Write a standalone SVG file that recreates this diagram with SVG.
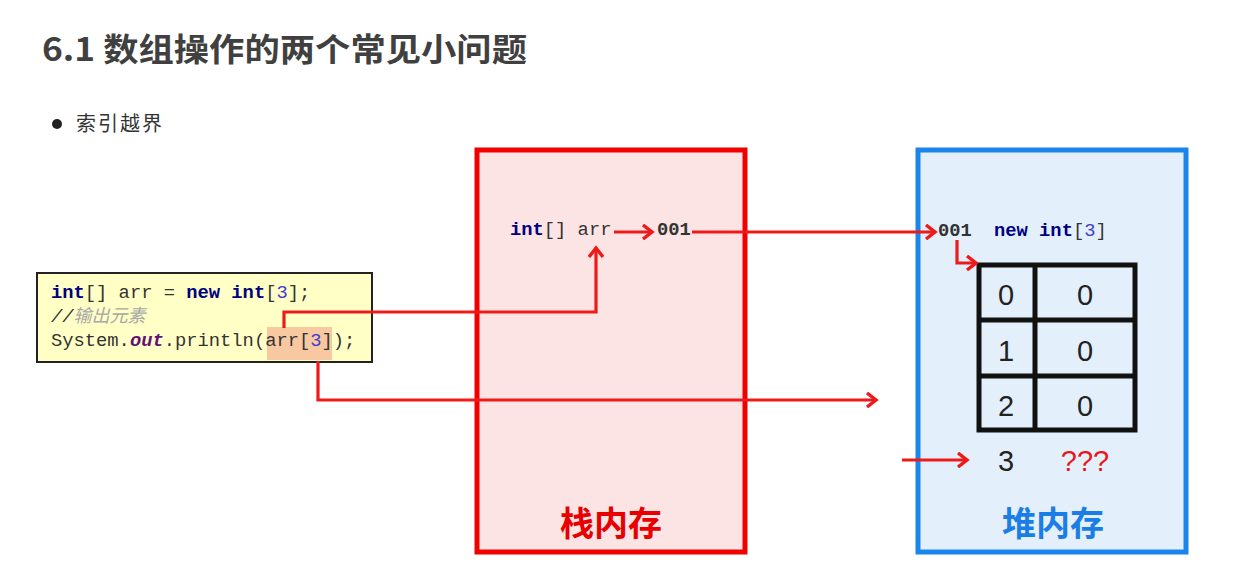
<svg xmlns="http://www.w3.org/2000/svg" width="1235" height="575" viewBox="0 0 1235 575">
<style>
.cjk{font-family:"Noto Sans CJK SC","Noto Sans",sans-serif}
.mono{font-family:"Liberation Mono","DejaVu Sans Mono",monospace;font-size:18.8px;fill:#333}
.kw{fill:#000080;font-weight:bold}
.num{fill:#3b3bd0}
.dig{font-family:"Liberation Sans","Noto Sans",sans-serif;font-size:29px;fill:#222;text-anchor:middle}
.red{fill:#e81818}
.conn{fill:none;stroke:#ee1a1a;stroke-width:3.2;stroke-linejoin:miter}
</style>
<defs>
<marker id="ah" markerUnits="userSpaceOnUse" markerWidth="14" markerHeight="16" refX="11" refY="8" orient="auto">
<path d="M2,1 L11,8 L2,15" fill="none" stroke="#ee1a1a" stroke-width="3.4"/>
</marker>
</defs>
<rect width="1235" height="575" fill="#ffffff"/>
<g id="title">
<text x="42" y="61" class="cjk" font-size="32" font-weight="bold" fill="#404040" textLength="485" lengthAdjust="spacingAndGlyphs">6.1 数组操作的两个常见小问题</text>
</g>
<g id="bullet">
<circle cx="57" cy="124" r="5" fill="#222"/>
<text x="76" y="131" class="cjk" font-size="20" fill="#333" textLength="86">索引越界</text>
</g>
<g id="stack">
<rect x="477" y="150" width="268" height="402" fill="#fde4e4" stroke="#f00000" stroke-width="5"/>
<text x="611" y="536" class="cjk" font-size="34" font-weight="bold" fill="#e80000" text-anchor="middle">栈内存</text>
<text x="510" y="235" class="mono"><tspan class="kw">int</tspan>[] arr</text>
<text x="657" y="235" class="mono" font-weight="bold" fill="#111">001</text>
</g>
<g id="heap">
<rect x="918" y="150" width="268" height="402" fill="#e3f0fc" stroke="#1a86ec" stroke-width="5"/>
<text x="1053" y="536" class="cjk" font-size="34" font-weight="bold" fill="#1a7ee6" text-anchor="middle">堆内存</text>
<text x="938" y="236" class="mono" font-weight="bold" fill="#111">001</text>
<text x="994" y="236" class="mono"><tspan class="kw">new</tspan> <tspan class="kw">int</tspan>[<tspan class="num">3</tspan>]</text>
</g>
<g id="array">
<rect x="979" y="265" width="156" height="165" fill="none" stroke="#111" stroke-width="5"/>
<line x1="1035" y1="265" x2="1035" y2="430" stroke="#111" stroke-width="5"/>
<line x1="979" y1="320" x2="1135" y2="320" stroke="#111" stroke-width="5"/>
<line x1="979" y1="376" x2="1135" y2="376" stroke="#111" stroke-width="5"/>
<text x="1006" y="305" class="dig">0</text>
<text x="1085" y="305" class="dig">0</text>
<text x="1006" y="361" class="dig">1</text>
<text x="1085" y="361" class="dig">0</text>
<text x="1006" y="416" class="dig">2</text>
<text x="1085" y="416" class="dig">0</text>
<text x="1006" y="471" class="dig">3</text>
<text x="1085" y="471" class="dig red">???</text>
</g>
<g id="code">
<rect x="37" y="273" width="335" height="89" fill="#ffffc6" stroke="#222" stroke-width="2"/>
<rect x="267" y="327" width="65" height="33" fill="#f8c8a0"/>
<text x="51" y="298" class="mono"><tspan class="kw">int</tspan>[] arr = <tspan class="kw">new</tspan> <tspan class="kw">int</tspan>[<tspan class="num">3</tspan>];</text>
<text x="51" y="322" class="mono" font-style="italic" fill="#a8a8a8">//<tspan class="cjk" font-size="18" fill="#a8a8a8">输出元素</tspan></text>
<text x="51" y="346" class="mono">System.<tspan font-weight="bold" font-style="italic" fill="#660e7a">out</tspan>.println(arr[<tspan class="num">3</tspan>]);</text>
</g>
<g id="connectors">
<path class="conn" d="M614,232 H652" marker-end="url(#ah)"/>
<path class="conn" d="M692,232 H935" marker-end="url(#ah)"/>
<path class="conn" d="M284,328 V312 H596 V248" marker-end="url(#ah)"/>
<path class="conn" d="M318,361 V400 H876" marker-end="url(#ah)"/>
<path class="conn" d="M957,240 V263 H976" marker-end="url(#ah)"/>
<path class="conn" d="M902,460 H967" marker-end="url(#ah)"/>
</g>
</svg>
